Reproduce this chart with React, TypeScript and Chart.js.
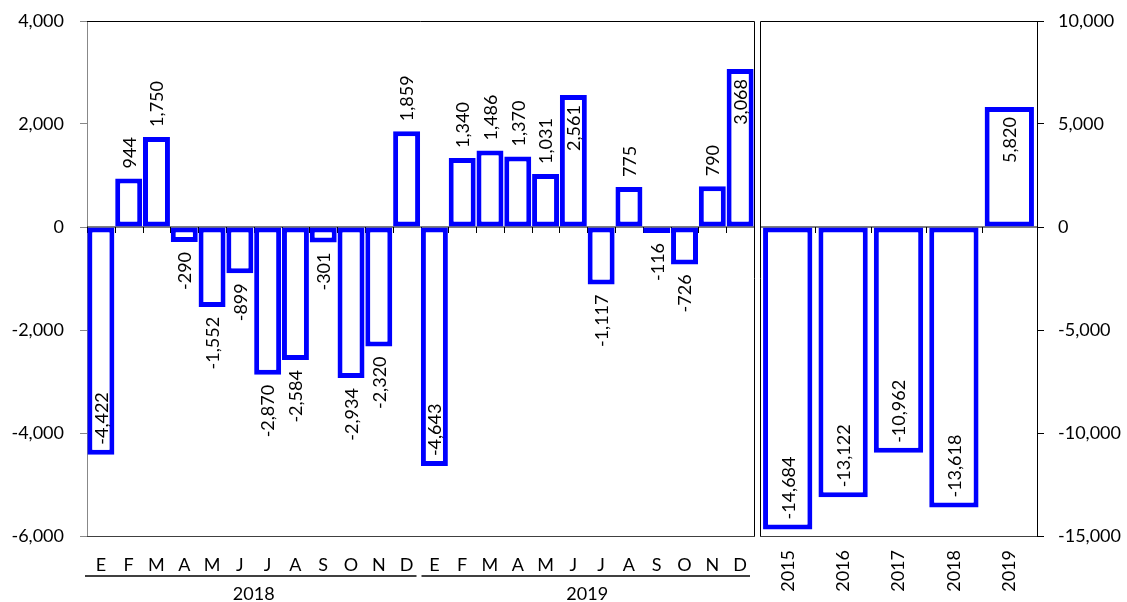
import React, { useEffect, useRef } from "react";
import { Chart, registerables } from "chart.js";

Chart.register(...registerables);

// ---------- data ----------
const monthLabels = ["E", "F", "M", "A", "M", "J", "J", "A", "S", "O", "N", "D", "E", "F", "M", "A", "M", "J", "J", "A", "S", "O", "N", "D"];
const groupLabels = ["2018", "2019"];
const values2018 = [-4422, 944, 1750, -290, -1552, -899, -2870, -2584, -301, -2934, -2320, 1859];
const values2019 = [-4643, 1340, 1486, 1370, 1031, 2561, -1117, 775, -116, -726, 790, 3068];
const monthlyValues = [...values2018, ...values2019];
const monthlyInsideLabels = [0, 12, 17, 23];

const yearLabels = ["2015", "2016", "2017", "2018", "2019"];
const yearValues = [-14684, -13122, -10962, -13618, 5820];
const yearInsideLabels = [0, 1, 2, 3, 4];

const leftTicks = [-6000, -4000, -2000, 0, 2000, 4000];
const rightTicks = [-15000, -10000, -5000, 0, 5000, 10000];

// ---------- style ----------
const FONT_FAMILY = "Lato, 'Noto Sans', 'DejaVu Sans', sans-serif";
const FONT_SIZE = 18;
const BLUE = "#0000FF";
const W = 1127;
const H = 602;
const PLOT_TOP = 21;
const PLOT_BOTTOM = 536;
const LEFT_CANVAS_W = 756;
const RIGHT_CANVAS_X = 757;
const RIGHT_CANVAS_W = W - RIGHT_CANVAS_X;

const fmt = (v: number) => v.toLocaleString("en-US");

const zeroLinePlugin = {
  id: "zeroLine",
  beforeDatasetsDraw(chart: any) {
    const { ctx, chartArea, scales } = chart;
    const y0 = scales.y.getPixelForValue(0);
    const n = chart.data.labels.length;
    const cw = (chartArea.right - chartArea.left) / n;
    ctx.save();
    ctx.strokeStyle = "#000";
    ctx.lineWidth = 1;
    ctx.beginPath();
    ctx.moveTo(chartArea.left, y0);
    ctx.lineTo(chartArea.right, y0);
    for (let i = 0; i <= n; i++) {
      const x = Math.round(chartArea.left + i * cw) + 0.5;
      ctx.moveTo(x, y0);
      ctx.lineTo(x, y0 + 6);
    }
    ctx.stroke();
    ctx.restore();
  },
};

const makeLabelPlugin = (values: number[], inside: number[]) => ({
  id: "barLabels",
  afterDatasetsDraw(chart: any) {
    const { ctx } = chart;
    const meta = chart.getDatasetMeta(0);
    const gap = 10;
    ctx.save();
    ctx.font = `${FONT_SIZE}px ${FONT_FAMILY}`;
    ctx.fillStyle = "#000";
    ctx.textBaseline = "middle";
    meta.data.forEach((bar: any, i: number) => {
      const v = values[i];
      const { x, y } = bar.getProps(["x", "y"], true);
      const isIn = inside.includes(i);
      const pos = v >= 0;
      ctx.save();
      ctx.translate(x, y);
      ctx.rotate(-Math.PI / 2);
      if ((pos && !isIn) || (!pos && isIn)) {
        ctx.textAlign = "left";
        ctx.fillText(fmt(v), gap, 1);
      } else {
        ctx.textAlign = "right";
        ctx.fillText(fmt(v), -gap, 1);
      }
      ctx.restore();
    });
    ctx.restore();
  },
});

const leftFramePlugin = {
  id: "leftFrame",
  afterDraw(chart: any) {
    const { ctx, chartArea } = chart;
    const { left, right, top, bottom } = chartArea;
    ctx.save();
    ctx.lineWidth = 1;
    ctx.strokeStyle = "#000";
    ctx.beginPath();
    ctx.moveTo(left, top + 0.5);
    ctx.lineTo(right + 0.5, top + 0.5);
    ctx.lineTo(right + 0.5, bottom);
    ctx.stroke();
    ctx.strokeStyle = "#404040";
    ctx.beginPath();
    ctx.moveTo(left, bottom + 0.5);
    ctx.lineTo(right + 1, bottom + 0.5);
    ctx.stroke();

    // group lines and year labels
    const n = monthLabels.length;
    const groups = groupLabels.length;
    const per = n / groups;
    const cw = (right - left) / n;
    ctx.font = `${FONT_SIZE}px ${FONT_FAMILY}`;
    ctx.fillStyle = "#000";
    ctx.textAlign = "center";
    ctx.textBaseline = "middle";
    for (let g = 0; g < groups; g++) {
      const x0 = left + g * per * cw;
      const x1 = left + (g + 1) * per * cw;
      ctx.strokeStyle = "#000";
      ctx.lineWidth = 1.5;
      ctx.beginPath();
      ctx.moveTo(x0 - 2 + g * 3, 576);
      ctx.lineTo(x1 - 4, 576);
      ctx.stroke();
      ctx.fillText(groupLabels[g], (x0 + x1) / 2, 594);
    }
    ctx.restore();
  },
};

const rightFramePlugin = {
  id: "rightFrame",
  afterDraw(chart: any) {
    const { ctx, chartArea } = chart;
    const { left, right, top, bottom } = chartArea;
    ctx.save();
    ctx.lineWidth = 1;
    ctx.strokeStyle = "#000";
    ctx.beginPath();
    ctx.moveTo(right, top + 0.5);
    ctx.lineTo(left + 0.5, top + 0.5);
    ctx.lineTo(left + 0.5, bottom);
    ctx.stroke();
    ctx.strokeStyle = "#404040";
    ctx.beginPath();
    ctx.moveTo(left, bottom + 0.5);
    ctx.lineTo(right, bottom + 0.5);
    ctx.stroke();
    ctx.restore();
  },
};

const font = { family: FONT_FAMILY, size: FONT_SIZE };

export default function App() {
  const leftRef = useRef<HTMLCanvasElement>(null);
  const rightRef = useRef<HTMLCanvasElement>(null);

  useEffect(() => {
    const left = new Chart(leftRef.current as HTMLCanvasElement, {
      type: "bar",
      data: {
        labels: monthLabels,
        datasets: [
          {
            data: monthlyValues,
            backgroundColor: "#FFFFFF",
            borderColor: BLUE,
            borderWidth: 5,
            borderSkipped: false,
            barPercentage: 1,
            categoryPercentage: 0.97,
          },
        ],
      },
      options: {
        animation: false,
        responsive: false,
        maintainAspectRatio: false,
        layout: { padding: { left: 0, right: 2, top: PLOT_TOP, bottom: 0 } },
        plugins: { legend: { display: false }, tooltip: { enabled: false } },
        scales: {
          x: {
            grid: { display: false },
            border: { display: false },
            ticks: { font, color: "#000", padding: 10, maxRotation: 0, minRotation: 0, autoSkip: false },
            afterFit: (s: any) => {
              s.height = H - PLOT_BOTTOM;
              s.paddingLeft = 0;
              s.paddingRight = 0;
            },
          },
          y: {
            min: -6000,
            max: 4000,
            afterBuildTicks: (s: any) => {
              s.ticks = leftTicks.map((v) => ({ value: v }));
            },
            grid: { drawOnChartArea: false, drawTicks: true, tickLength: 7, color: "#888" },
            border: { color: "#888" },
            ticks: { font, color: "#000", padding: 16, callback: (v: any) => fmt(Number(v)) },
            afterFit: (s: any) => {
              s.width = 87;
              s.paddingTop = 0;
              s.paddingBottom = 0;
            },
          },
        },
      } as any,
      plugins: [zeroLinePlugin, makeLabelPlugin(monthlyValues, monthlyInsideLabels), leftFramePlugin],
    });

    const right = new Chart(rightRef.current as HTMLCanvasElement, {
      type: "bar",
      data: {
        labels: yearLabels,
        datasets: [
          {
            data: yearValues,
            backgroundColor: "#FFFFFF",
            borderColor: BLUE,
            borderWidth: 5,
            borderSkipped: false,
            barPercentage: 1,
            categoryPercentage: 0.89,
          },
        ],
      },
      options: {
        animation: false,
        responsive: false,
        maintainAspectRatio: false,
        layout: { padding: { left: 3, right: 0, top: PLOT_TOP, bottom: 0 } },
        plugins: { legend: { display: false }, tooltip: { enabled: false } },
        scales: {
          x: {
            grid: { display: false },
            border: { display: false },
            ticks: { font, color: "#000", padding: 6, maxRotation: 90, minRotation: 90, autoSkip: false },
            afterFit: (s: any) => {
              s.height = H - PLOT_BOTTOM;
              s.paddingLeft = 0;
              s.paddingRight = 0;
            },
          },
          y: {
            position: "right",
            min: -15000,
            max: 10000,
            afterBuildTicks: (s: any) => {
              s.ticks = rightTicks.map((v) => ({ value: v }));
            },
            grid: { drawOnChartArea: false, drawTicks: true, tickLength: 7, color: "#000" },
            border: { color: "#000" },
            ticks: { font, color: "#000", padding: 14, callback: (v: any) => fmt(Number(v)) },
            afterFit: (s: any) => {
              s.width = 90;
              s.paddingTop = 0;
              s.paddingBottom = 0;
            },
          },
        },
      } as any,
      plugins: [zeroLinePlugin, makeLabelPlugin(yearValues, yearInsideLabels), rightFramePlugin],
    });

    return () => {
      left.destroy();
      right.destroy();
    };
  }, []);

  return (
    <div style={{ position: "fixed", left: 0, top: 0, width: W, height: H, background: "#fff" }}>
      <canvas
        ref={leftRef}
        width={LEFT_CANVAS_W}
        height={H}
        style={{ position: "absolute", left: 0, top: 0, width: LEFT_CANVAS_W, height: H }}
      />
      <canvas
        ref={rightRef}
        width={RIGHT_CANVAS_W}
        height={H}
        style={{ position: "absolute", left: RIGHT_CANVAS_X, top: 0, width: RIGHT_CANVAS_W, height: H }}
      />
    </div>
  );
}
